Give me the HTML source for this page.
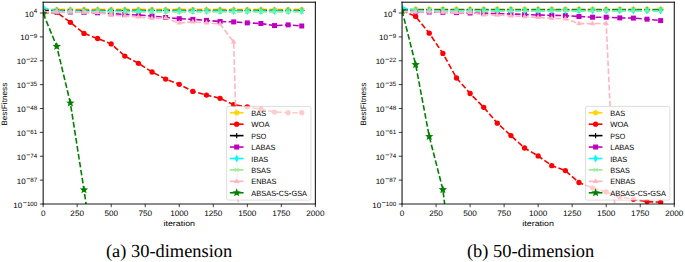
<!DOCTYPE html>
<html><head><meta charset="utf-8"><style>
html,body{margin:0;padding:0;background:#fff;width:685px;height:262px;overflow:hidden;position:relative}
</style></head><body>
<svg width="685" height="262" viewBox="0 0 685 262" style="position:absolute;left:0;top:0" text-rendering="geometricPrecision">
<rect width="685" height="262" fill="#fff"/>
<clipPath id="c43"><rect x="43.15" y="2.20" width="272.20" height="201.80"/></clipPath>
<g clip-path="url(#c43)">
<polyline points="43.15,9.40 56.76,9.40 70.37,9.40 83.98,9.40 97.59,9.40 111.20,9.40 124.81,9.40 138.42,9.40 152.03,9.40 165.64,9.40 179.25,9.40 192.86,9.40 206.47,9.40 220.08,9.40 233.69,9.40 247.30,9.40 260.91,9.40 274.52,9.40 288.13,9.40 301.74,9.40" fill="none" stroke="#ffd700" stroke-width="1.6" stroke-dasharray="5.66 2.42"/>
<polygon points="43.15,6.40 46.00,8.47 44.91,11.83 41.39,11.83 40.30,8.47" fill="#ffd700"/>
<polygon points="56.76,6.40 59.61,8.47 58.52,11.83 55.00,11.83 53.91,8.47" fill="#ffd700"/>
<polygon points="70.37,6.40 73.22,8.47 72.13,11.83 68.61,11.83 67.52,8.47" fill="#ffd700"/>
<polygon points="83.98,6.40 86.83,8.47 85.74,11.83 82.22,11.83 81.13,8.47" fill="#ffd700"/>
<polygon points="97.59,6.40 100.44,8.47 99.35,11.83 95.83,11.83 94.74,8.47" fill="#ffd700"/>
<polygon points="111.20,6.40 114.05,8.47 112.96,11.83 109.44,11.83 108.35,8.47" fill="#ffd700"/>
<polygon points="124.81,6.40 127.66,8.47 126.57,11.83 123.05,11.83 121.96,8.47" fill="#ffd700"/>
<polygon points="138.42,6.40 141.27,8.47 140.18,11.83 136.66,11.83 135.57,8.47" fill="#ffd700"/>
<polygon points="152.03,6.40 154.88,8.47 153.79,11.83 150.27,11.83 149.18,8.47" fill="#ffd700"/>
<polygon points="165.64,6.40 168.49,8.47 167.40,11.83 163.88,11.83 162.79,8.47" fill="#ffd700"/>
<polygon points="179.25,6.40 182.10,8.47 181.01,11.83 177.49,11.83 176.40,8.47" fill="#ffd700"/>
<polygon points="192.86,6.40 195.71,8.47 194.62,11.83 191.10,11.83 190.01,8.47" fill="#ffd700"/>
<polygon points="206.47,6.40 209.32,8.47 208.23,11.83 204.71,11.83 203.62,8.47" fill="#ffd700"/>
<polygon points="220.08,6.40 222.93,8.47 221.84,11.83 218.32,11.83 217.23,8.47" fill="#ffd700"/>
<polygon points="233.69,6.40 236.54,8.47 235.45,11.83 231.93,11.83 230.84,8.47" fill="#ffd700"/>
<polygon points="247.30,6.40 250.15,8.47 249.06,11.83 245.54,11.83 244.45,8.47" fill="#ffd700"/>
<polygon points="260.91,6.40 263.76,8.47 262.67,11.83 259.15,11.83 258.06,8.47" fill="#ffd700"/>
<polygon points="274.52,6.40 277.37,8.47 276.28,11.83 272.76,11.83 271.67,8.47" fill="#ffd700"/>
<polygon points="288.13,6.40 290.98,8.47 289.89,11.83 286.37,11.83 285.28,8.47" fill="#ffd700"/>
<polygon points="301.74,6.40 304.59,8.47 303.50,11.83 299.98,11.83 298.89,8.47" fill="#ffd700"/>
<polyline points="43.15,13.00 56.76,12.40 70.37,22.30 83.98,33.40 97.59,38.50 111.20,43.90 124.81,56.10 138.42,63.30 152.03,72.00 165.64,79.10 179.25,84.30 192.86,91.40 206.47,95.10 220.08,98.30 233.69,104.70 247.30,106.80 260.91,109.20 274.52,112.10 288.13,112.70 301.74,112.70" fill="none" stroke="#ff0000" stroke-width="1.6" stroke-dasharray="5.66 2.42"/>
<circle cx="43.15" cy="13.00" r="2.65" fill="#ff0000"/>
<circle cx="56.76" cy="12.40" r="2.65" fill="#ff0000"/>
<circle cx="70.37" cy="22.30" r="2.65" fill="#ff0000"/>
<circle cx="83.98" cy="33.40" r="2.65" fill="#ff0000"/>
<circle cx="97.59" cy="38.50" r="2.65" fill="#ff0000"/>
<circle cx="111.20" cy="43.90" r="2.65" fill="#ff0000"/>
<circle cx="124.81" cy="56.10" r="2.65" fill="#ff0000"/>
<circle cx="138.42" cy="63.30" r="2.65" fill="#ff0000"/>
<circle cx="152.03" cy="72.00" r="2.65" fill="#ff0000"/>
<circle cx="165.64" cy="79.10" r="2.65" fill="#ff0000"/>
<circle cx="179.25" cy="84.30" r="2.65" fill="#ff0000"/>
<circle cx="192.86" cy="91.40" r="2.65" fill="#ff0000"/>
<circle cx="206.47" cy="95.10" r="2.65" fill="#ff0000"/>
<circle cx="220.08" cy="98.30" r="2.65" fill="#ff0000"/>
<circle cx="233.69" cy="104.70" r="2.65" fill="#ff0000"/>
<circle cx="247.30" cy="106.80" r="2.65" fill="#ff0000"/>
<circle cx="260.91" cy="109.20" r="2.65" fill="#ff0000"/>
<circle cx="274.52" cy="112.10" r="2.65" fill="#ff0000"/>
<circle cx="288.13" cy="112.70" r="2.65" fill="#ff0000"/>
<circle cx="301.74" cy="112.70" r="2.65" fill="#ff0000"/>
<polyline points="43.15,10.50 56.76,10.50 70.37,10.50 83.98,10.50 97.59,10.50 111.20,10.50 124.81,10.50 138.42,10.50 152.03,10.50 165.64,10.50 179.25,10.50 192.86,10.50 206.47,10.50 220.08,10.50 233.69,10.50 247.30,10.50 260.91,10.50 274.52,10.50 288.13,10.50 301.74,10.50" fill="none" stroke="#000000" stroke-width="1.6" stroke-dasharray="5.66 2.42"/>
<path d="M40.45 10.50H45.85M43.15 7.80V13.20" stroke="#000000" stroke-width="1.1"/>
<path d="M54.06 10.50H59.46M56.76 7.80V13.20" stroke="#000000" stroke-width="1.1"/>
<path d="M67.67 10.50H73.07M70.37 7.80V13.20" stroke="#000000" stroke-width="1.1"/>
<path d="M81.28 10.50H86.68M83.98 7.80V13.20" stroke="#000000" stroke-width="1.1"/>
<path d="M94.89 10.50H100.29M97.59 7.80V13.20" stroke="#000000" stroke-width="1.1"/>
<path d="M108.50 10.50H113.90M111.20 7.80V13.20" stroke="#000000" stroke-width="1.1"/>
<path d="M122.11 10.50H127.51M124.81 7.80V13.20" stroke="#000000" stroke-width="1.1"/>
<path d="M135.72 10.50H141.12M138.42 7.80V13.20" stroke="#000000" stroke-width="1.1"/>
<path d="M149.33 10.50H154.73M152.03 7.80V13.20" stroke="#000000" stroke-width="1.1"/>
<path d="M162.94 10.50H168.34M165.64 7.80V13.20" stroke="#000000" stroke-width="1.1"/>
<path d="M176.55 10.50H181.95M179.25 7.80V13.20" stroke="#000000" stroke-width="1.1"/>
<path d="M190.16 10.50H195.56M192.86 7.80V13.20" stroke="#000000" stroke-width="1.1"/>
<path d="M203.77 10.50H209.17M206.47 7.80V13.20" stroke="#000000" stroke-width="1.1"/>
<path d="M217.38 10.50H222.78M220.08 7.80V13.20" stroke="#000000" stroke-width="1.1"/>
<path d="M230.99 10.50H236.39M233.69 7.80V13.20" stroke="#000000" stroke-width="1.1"/>
<path d="M244.60 10.50H250.00M247.30 7.80V13.20" stroke="#000000" stroke-width="1.1"/>
<path d="M258.21 10.50H263.61M260.91 7.80V13.20" stroke="#000000" stroke-width="1.1"/>
<path d="M271.82 10.50H277.22M274.52 7.80V13.20" stroke="#000000" stroke-width="1.1"/>
<path d="M285.43 10.50H290.83M288.13 7.80V13.20" stroke="#000000" stroke-width="1.1"/>
<path d="M299.04 10.50H304.44M301.74 7.80V13.20" stroke="#000000" stroke-width="1.1"/>
<polyline points="43.15,11.50 56.76,11.80 70.37,12.00 83.98,12.30 97.59,12.80 111.20,13.50 124.81,14.50 138.42,15.00 152.03,16.00 165.64,17.50 179.25,18.70 192.86,19.40 206.47,20.40 220.08,21.50 233.69,21.90 247.30,22.90 260.91,23.50 274.52,25.60 288.13,24.90 301.74,26.00" fill="none" stroke="#bf00bf" stroke-width="1.6" stroke-dasharray="5.66 2.42"/>
<rect x="40.65" y="9.00" width="5.00" height="5.00" fill="#bf00bf"/>
<rect x="54.26" y="9.30" width="5.00" height="5.00" fill="#bf00bf"/>
<rect x="67.87" y="9.50" width="5.00" height="5.00" fill="#bf00bf"/>
<rect x="81.48" y="9.80" width="5.00" height="5.00" fill="#bf00bf"/>
<rect x="95.09" y="10.30" width="5.00" height="5.00" fill="#bf00bf"/>
<rect x="108.70" y="11.00" width="5.00" height="5.00" fill="#bf00bf"/>
<rect x="122.31" y="12.00" width="5.00" height="5.00" fill="#bf00bf"/>
<rect x="135.92" y="12.50" width="5.00" height="5.00" fill="#bf00bf"/>
<rect x="149.53" y="13.50" width="5.00" height="5.00" fill="#bf00bf"/>
<rect x="163.14" y="15.00" width="5.00" height="5.00" fill="#bf00bf"/>
<rect x="176.75" y="16.20" width="5.00" height="5.00" fill="#bf00bf"/>
<rect x="190.36" y="16.90" width="5.00" height="5.00" fill="#bf00bf"/>
<rect x="203.97" y="17.90" width="5.00" height="5.00" fill="#bf00bf"/>
<rect x="217.58" y="19.00" width="5.00" height="5.00" fill="#bf00bf"/>
<rect x="231.19" y="19.40" width="5.00" height="5.00" fill="#bf00bf"/>
<rect x="244.80" y="20.40" width="5.00" height="5.00" fill="#bf00bf"/>
<rect x="258.41" y="21.00" width="5.00" height="5.00" fill="#bf00bf"/>
<rect x="272.02" y="23.10" width="5.00" height="5.00" fill="#bf00bf"/>
<rect x="285.63" y="22.40" width="5.00" height="5.00" fill="#bf00bf"/>
<rect x="299.24" y="23.50" width="5.00" height="5.00" fill="#bf00bf"/>
<polyline points="43.15,7.50 56.76,11.10 70.37,11.10 83.98,11.10 97.59,11.10 111.20,11.10 124.81,11.10 138.42,11.10 152.03,11.10 165.64,11.10 179.25,11.10 192.86,11.10 206.47,11.10 220.08,11.10 233.69,11.10 247.30,11.10 260.91,11.10 274.52,11.10 288.13,11.10 301.74,11.10" fill="none" stroke="#00ffff" stroke-width="1.6" stroke-dasharray="5.66 2.42"/>
<polygon points="43.15,3.50 45.35,7.50 43.15,11.50 40.95,7.50" fill="#00ffff"/>
<polygon points="56.76,7.10 58.96,11.10 56.76,15.10 54.56,11.10" fill="#00ffff"/>
<polygon points="70.37,7.10 72.57,11.10 70.37,15.10 68.17,11.10" fill="#00ffff"/>
<polygon points="83.98,7.10 86.18,11.10 83.98,15.10 81.78,11.10" fill="#00ffff"/>
<polygon points="97.59,7.10 99.79,11.10 97.59,15.10 95.39,11.10" fill="#00ffff"/>
<polygon points="111.20,7.10 113.40,11.10 111.20,15.10 109.00,11.10" fill="#00ffff"/>
<polygon points="124.81,7.10 127.01,11.10 124.81,15.10 122.61,11.10" fill="#00ffff"/>
<polygon points="138.42,7.10 140.62,11.10 138.42,15.10 136.22,11.10" fill="#00ffff"/>
<polygon points="152.03,7.10 154.23,11.10 152.03,15.10 149.83,11.10" fill="#00ffff"/>
<polygon points="165.64,7.10 167.84,11.10 165.64,15.10 163.44,11.10" fill="#00ffff"/>
<polygon points="179.25,7.10 181.45,11.10 179.25,15.10 177.05,11.10" fill="#00ffff"/>
<polygon points="192.86,7.10 195.06,11.10 192.86,15.10 190.66,11.10" fill="#00ffff"/>
<polygon points="206.47,7.10 208.67,11.10 206.47,15.10 204.27,11.10" fill="#00ffff"/>
<polygon points="220.08,7.10 222.28,11.10 220.08,15.10 217.88,11.10" fill="#00ffff"/>
<polygon points="233.69,7.10 235.89,11.10 233.69,15.10 231.49,11.10" fill="#00ffff"/>
<polygon points="247.30,7.10 249.50,11.10 247.30,15.10 245.10,11.10" fill="#00ffff"/>
<polygon points="260.91,7.10 263.11,11.10 260.91,15.10 258.71,11.10" fill="#00ffff"/>
<polygon points="274.52,7.10 276.72,11.10 274.52,15.10 272.32,11.10" fill="#00ffff"/>
<polygon points="288.13,7.10 290.33,11.10 288.13,15.10 285.93,11.10" fill="#00ffff"/>
<polygon points="301.74,7.10 303.94,11.10 301.74,15.10 299.54,11.10" fill="#00ffff"/>
<polyline points="43.15,11.90 56.76,11.90 70.37,11.90 83.98,11.90 97.59,11.90 111.20,11.90 124.81,11.90 138.42,11.90 152.03,11.90 165.64,11.90 179.25,11.90 192.86,11.90 206.47,11.90 220.08,11.90 233.69,11.90 247.30,11.90 260.91,11.90 274.52,11.90 288.13,11.90 301.74,11.90" fill="none" stroke="#90ee90" stroke-width="1.6" stroke-dasharray="5.66 2.42"/>
<path d="M41.15 9.90L45.15 13.90M41.15 13.90L45.15 9.90" stroke="#90ee90" stroke-width="1.0"/>
<path d="M54.76 9.90L58.76 13.90M54.76 13.90L58.76 9.90" stroke="#90ee90" stroke-width="1.0"/>
<path d="M68.37 9.90L72.37 13.90M68.37 13.90L72.37 9.90" stroke="#90ee90" stroke-width="1.0"/>
<path d="M81.98 9.90L85.98 13.90M81.98 13.90L85.98 9.90" stroke="#90ee90" stroke-width="1.0"/>
<path d="M95.59 9.90L99.59 13.90M95.59 13.90L99.59 9.90" stroke="#90ee90" stroke-width="1.0"/>
<path d="M109.20 9.90L113.20 13.90M109.20 13.90L113.20 9.90" stroke="#90ee90" stroke-width="1.0"/>
<path d="M122.81 9.90L126.81 13.90M122.81 13.90L126.81 9.90" stroke="#90ee90" stroke-width="1.0"/>
<path d="M136.42 9.90L140.42 13.90M136.42 13.90L140.42 9.90" stroke="#90ee90" stroke-width="1.0"/>
<path d="M150.03 9.90L154.03 13.90M150.03 13.90L154.03 9.90" stroke="#90ee90" stroke-width="1.0"/>
<path d="M163.64 9.90L167.64 13.90M163.64 13.90L167.64 9.90" stroke="#90ee90" stroke-width="1.0"/>
<path d="M177.25 9.90L181.25 13.90M177.25 13.90L181.25 9.90" stroke="#90ee90" stroke-width="1.0"/>
<path d="M190.86 9.90L194.86 13.90M190.86 13.90L194.86 9.90" stroke="#90ee90" stroke-width="1.0"/>
<path d="M204.47 9.90L208.47 13.90M204.47 13.90L208.47 9.90" stroke="#90ee90" stroke-width="1.0"/>
<path d="M218.08 9.90L222.08 13.90M218.08 13.90L222.08 9.90" stroke="#90ee90" stroke-width="1.0"/>
<path d="M231.69 9.90L235.69 13.90M231.69 13.90L235.69 9.90" stroke="#90ee90" stroke-width="1.0"/>
<path d="M245.30 9.90L249.30 13.90M245.30 13.90L249.30 9.90" stroke="#90ee90" stroke-width="1.0"/>
<path d="M258.91 9.90L262.91 13.90M258.91 13.90L262.91 9.90" stroke="#90ee90" stroke-width="1.0"/>
<path d="M272.52 9.90L276.52 13.90M272.52 13.90L276.52 9.90" stroke="#90ee90" stroke-width="1.0"/>
<path d="M286.13 9.90L290.13 13.90M286.13 13.90L290.13 9.90" stroke="#90ee90" stroke-width="1.0"/>
<path d="M299.74 9.90L303.74 13.90M299.74 13.90L303.74 9.90" stroke="#90ee90" stroke-width="1.0"/>
<polyline points="43.15,12.00 56.76,11.80 70.37,12.00 83.98,12.20 97.59,12.50 111.20,15.30 124.81,16.00 138.42,17.00 152.03,18.50 165.64,18.00 179.25,23.00 192.86,22.00 206.47,22.90 220.08,24.00 233.69,42.00 247.30,521.00 260.91,600.00 274.52,600.00 288.13,600.00 301.74,600.00" fill="none" stroke="#ffb6c1" stroke-width="1.6" stroke-dasharray="5.66 2.42"/>
<polygon points="43.15,8.80 45.93,13.60 40.37,13.60" fill="#ffb6c1"/>
<polygon points="56.76,8.60 59.54,13.40 53.98,13.40" fill="#ffb6c1"/>
<polygon points="70.37,8.80 73.15,13.60 67.59,13.60" fill="#ffb6c1"/>
<polygon points="83.98,9.00 86.76,13.80 81.20,13.80" fill="#ffb6c1"/>
<polygon points="97.59,9.30 100.37,14.10 94.81,14.10" fill="#ffb6c1"/>
<polygon points="111.20,12.10 113.98,16.90 108.42,16.90" fill="#ffb6c1"/>
<polygon points="124.81,12.80 127.59,17.60 122.03,17.60" fill="#ffb6c1"/>
<polygon points="138.42,13.80 141.20,18.60 135.64,18.60" fill="#ffb6c1"/>
<polygon points="152.03,15.30 154.81,20.10 149.25,20.10" fill="#ffb6c1"/>
<polygon points="165.64,14.80 168.42,19.60 162.86,19.60" fill="#ffb6c1"/>
<polygon points="179.25,19.80 182.03,24.60 176.47,24.60" fill="#ffb6c1"/>
<polygon points="192.86,18.80 195.64,23.60 190.08,23.60" fill="#ffb6c1"/>
<polygon points="206.47,19.70 209.25,24.50 203.69,24.50" fill="#ffb6c1"/>
<polygon points="220.08,20.80 222.86,25.60 217.30,25.60" fill="#ffb6c1"/>
<polygon points="233.69,38.80 236.47,43.60 230.91,43.60" fill="#ffb6c1"/>
<polyline points="43.15,13.40 56.76,46.40 70.37,103.00 83.98,189.80 97.59,283.00 111.20,400.00 124.81,400.00 138.42,400.00 152.03,400.00 165.64,400.00 179.25,400.00 192.86,400.00 206.47,400.00 220.08,400.00 233.69,400.00 247.30,400.00 260.91,400.00 274.52,400.00 288.13,400.00 301.74,400.00" fill="none" stroke="#008000" stroke-width="1.6" stroke-dasharray="5.66 2.42"/>
<polygon points="43.15,9.00 44.30,11.82 47.33,12.04 45.00,14.00 45.74,16.96 43.15,15.35 40.56,16.96 41.30,14.00 38.97,12.04 42.00,11.82" fill="#008000"/>
<polygon points="56.76,42.00 57.91,44.82 60.94,45.04 58.61,47.00 59.35,49.96 56.76,48.35 54.17,49.96 54.91,47.00 52.58,45.04 55.61,44.82" fill="#008000"/>
<polygon points="70.37,98.60 71.52,101.42 74.55,101.64 72.22,103.60 72.96,106.56 70.37,104.95 67.78,106.56 68.52,103.60 66.19,101.64 69.22,101.42" fill="#008000"/>
<polygon points="83.98,185.40 85.13,188.22 88.16,188.44 85.83,190.40 86.57,193.36 83.98,191.75 81.39,193.36 82.13,190.40 79.80,188.44 82.83,188.22" fill="#008000"/>
</g>
<rect x="226.65" y="106.40" width="84.30" height="93.70" rx="1.6" fill="#fff" fill-opacity="0.8" stroke="#d0d0d0" stroke-width="0.7"/>
<line x1="229.85" y1="112.75" x2="243.55" y2="112.75" stroke="#ffd700" stroke-width="1.6"/>
<polygon points="236.70,109.75 239.55,111.82 238.46,115.18 234.94,115.18 233.85,111.82" fill="#ffd700"/>
<text x="251.35" y="115.85" font-size="7.7" fill="#000" font-family='"Liberation Sans", sans-serif' textLength="14.84" lengthAdjust="spacingAndGlyphs">BAS</text>
<line x1="229.85" y1="124.18" x2="243.55" y2="124.18" stroke="#ff0000" stroke-width="1.6"/>
<circle cx="236.70" cy="124.18" r="2.65" fill="#ff0000"/>
<text x="251.35" y="127.28" font-size="7.7" fill="#000" font-family='"Liberation Sans", sans-serif' textLength="18.2" lengthAdjust="spacingAndGlyphs">WOA</text>
<line x1="229.85" y1="135.61" x2="243.55" y2="135.61" stroke="#000000" stroke-width="1.6"/>
<path d="M234.00 135.61H239.40M236.70 132.91V138.31" stroke="#000000" stroke-width="1.1"/>
<text x="251.35" y="138.71" font-size="7.7" fill="#000" font-family='"Liberation Sans", sans-serif' textLength="14.98" lengthAdjust="spacingAndGlyphs">PSO</text>
<line x1="229.85" y1="147.04" x2="243.55" y2="147.04" stroke="#bf00bf" stroke-width="1.6"/>
<rect x="234.20" y="144.54" width="5.00" height="5.00" fill="#bf00bf"/>
<text x="251.35" y="150.14" font-size="7.7" fill="#000" font-family='"Liberation Sans", sans-serif' textLength="24.02" lengthAdjust="spacingAndGlyphs">LABAS</text>
<line x1="229.85" y1="158.47" x2="243.55" y2="158.47" stroke="#00ffff" stroke-width="1.6"/>
<polygon points="236.70,154.47 238.90,158.47 236.70,162.47 234.50,158.47" fill="#00ffff"/>
<text x="251.35" y="161.57" font-size="7.7" fill="#000" font-family='"Liberation Sans", sans-serif' textLength="17.02" lengthAdjust="spacingAndGlyphs">IBAS</text>
<line x1="229.85" y1="169.90" x2="243.55" y2="169.90" stroke="#90ee90" stroke-width="1.6"/>
<path d="M234.70 167.90L238.70 171.90M234.70 171.90L238.70 167.90" stroke="#90ee90" stroke-width="1.0"/>
<text x="251.35" y="173.00" font-size="7.7" fill="#000" font-family='"Liberation Sans", sans-serif' textLength="19.54" lengthAdjust="spacingAndGlyphs">BSAS</text>
<line x1="229.85" y1="181.33" x2="243.55" y2="181.33" stroke="#ffb6c1" stroke-width="1.6"/>
<polygon points="236.70,178.13 239.48,182.93 233.92,182.93" fill="#ffb6c1"/>
<text x="251.35" y="184.43" font-size="7.7" fill="#000" font-family='"Liberation Sans", sans-serif' textLength="25.05" lengthAdjust="spacingAndGlyphs">ENBAS</text>
<line x1="229.85" y1="192.76" x2="243.55" y2="192.76" stroke="#008000" stroke-width="1.6"/>
<polygon points="236.70,188.36 237.85,191.18 240.88,191.40 238.55,193.36 239.29,196.32 236.70,194.71 234.11,196.32 234.85,193.36 232.52,191.40 235.55,191.18" fill="#008000"/>
<text x="251.35" y="195.86" font-size="7.7" fill="#000" font-family='"Liberation Sans", sans-serif' textLength="24.76" lengthAdjust="spacingAndGlyphs">ABSAS</text>
<line x1="276.46" y1="193.76" x2="278.45" y2="193.76" stroke="#000" stroke-width="0.9"/>
<text x="278.80" y="195.86" font-size="7.7" fill="#000" font-family='"Liberation Sans", sans-serif' textLength="9.93" lengthAdjust="spacingAndGlyphs">CS</text>
<line x1="289.08" y1="193.76" x2="291.07" y2="193.76" stroke="#000" stroke-width="0.9"/>
<text x="291.42" y="195.86" font-size="7.7" fill="#000" font-family='"Liberation Sans", sans-serif' textLength="15.60" lengthAdjust="spacingAndGlyphs">GSA</text>
<line x1="43.15" y1="1.70" x2="43.15" y2="204.45" stroke="#000" stroke-width="1.0"/>
<line x1="315.35" y1="1.70" x2="315.35" y2="204.45" stroke="#000" stroke-width="1.0"/>
<line x1="42.65" y1="2.20" x2="315.85" y2="2.20" stroke="#000" stroke-width="1.0"/>
<line x1="42.65" y1="204.00" x2="315.85" y2="204.00" stroke="#000" stroke-width="0.9"/>
<line x1="43.15" y1="204.00" x2="43.15" y2="207.20" stroke="#000" stroke-width="0.75"/>
<text x="43.15" y="215.60" font-size="7.9" text-anchor="middle" fill="#000" font-family='"Liberation Sans", sans-serif' textLength="4.55" lengthAdjust="spacingAndGlyphs">0</text>
<line x1="77.17" y1="204.00" x2="77.17" y2="207.20" stroke="#000" stroke-width="0.75"/>
<text x="77.17" y="215.60" font-size="7.9" text-anchor="middle" fill="#000" font-family='"Liberation Sans", sans-serif' textLength="13.65" lengthAdjust="spacingAndGlyphs">250</text>
<line x1="111.20" y1="204.00" x2="111.20" y2="207.20" stroke="#000" stroke-width="0.75"/>
<text x="111.20" y="215.60" font-size="7.9" text-anchor="middle" fill="#000" font-family='"Liberation Sans", sans-serif' textLength="13.65" lengthAdjust="spacingAndGlyphs">500</text>
<line x1="145.22" y1="204.00" x2="145.22" y2="207.20" stroke="#000" stroke-width="0.75"/>
<text x="145.22" y="215.60" font-size="7.9" text-anchor="middle" fill="#000" font-family='"Liberation Sans", sans-serif' textLength="13.65" lengthAdjust="spacingAndGlyphs">750</text>
<line x1="179.25" y1="204.00" x2="179.25" y2="207.20" stroke="#000" stroke-width="0.75"/>
<text x="179.25" y="215.60" font-size="7.9" text-anchor="middle" fill="#000" font-family='"Liberation Sans", sans-serif' textLength="18.20" lengthAdjust="spacingAndGlyphs">1000</text>
<line x1="213.28" y1="204.00" x2="213.28" y2="207.20" stroke="#000" stroke-width="0.75"/>
<text x="213.28" y="215.60" font-size="7.9" text-anchor="middle" fill="#000" font-family='"Liberation Sans", sans-serif' textLength="18.20" lengthAdjust="spacingAndGlyphs">1250</text>
<line x1="247.30" y1="204.00" x2="247.30" y2="207.20" stroke="#000" stroke-width="0.75"/>
<text x="247.30" y="215.60" font-size="7.9" text-anchor="middle" fill="#000" font-family='"Liberation Sans", sans-serif' textLength="18.20" lengthAdjust="spacingAndGlyphs">1500</text>
<line x1="281.32" y1="204.00" x2="281.32" y2="207.20" stroke="#000" stroke-width="0.75"/>
<text x="281.32" y="215.60" font-size="7.9" text-anchor="middle" fill="#000" font-family='"Liberation Sans", sans-serif' textLength="18.20" lengthAdjust="spacingAndGlyphs">1750</text>
<line x1="315.35" y1="204.00" x2="315.35" y2="207.20" stroke="#000" stroke-width="0.75"/>
<text x="315.35" y="215.60" font-size="7.9" text-anchor="middle" fill="#000" font-family='"Liberation Sans", sans-serif' textLength="18.20" lengthAdjust="spacingAndGlyphs">2000</text>
<line x1="39.85" y1="13.00" x2="43.15" y2="13.00" stroke="#000" stroke-width="0.75"/>
<text x="33.80" y="13.20" font-size="6.2" fill="#000" font-family='"Liberation Sans", sans-serif' textLength="3.45" lengthAdjust="spacingAndGlyphs">4</text>
<text x="24.70" y="16.50" font-size="7.8" fill="#000" font-family='"Liberation Sans", sans-serif' textLength="8.9" lengthAdjust="spacingAndGlyphs">10</text>
<line x1="39.85" y1="36.88" x2="43.15" y2="36.88" stroke="#000" stroke-width="0.75"/>
<text x="33.80" y="38.38" font-size="6.2" fill="#000" font-family='"Liberation Sans", sans-serif' textLength="3.45" lengthAdjust="spacingAndGlyphs">9</text>
<line x1="30.10" y1="35.42" x2="33.50" y2="35.42" stroke="#000" stroke-width="0.6"/>
<text x="20.20" y="40.38" font-size="7.8" fill="#000" font-family='"Liberation Sans", sans-serif' textLength="8.9" lengthAdjust="spacingAndGlyphs">10</text>
<line x1="39.85" y1="60.75" x2="43.15" y2="60.75" stroke="#000" stroke-width="0.75"/>
<text x="30.35" y="62.25" font-size="6.2" fill="#000" font-family='"Liberation Sans", sans-serif' textLength="6.90" lengthAdjust="spacingAndGlyphs">22</text>
<line x1="26.65" y1="59.30" x2="30.05" y2="59.30" stroke="#000" stroke-width="0.6"/>
<text x="16.75" y="64.25" font-size="7.8" fill="#000" font-family='"Liberation Sans", sans-serif' textLength="8.9" lengthAdjust="spacingAndGlyphs">10</text>
<line x1="39.85" y1="84.62" x2="43.15" y2="84.62" stroke="#000" stroke-width="0.75"/>
<text x="30.35" y="86.12" font-size="6.2" fill="#000" font-family='"Liberation Sans", sans-serif' textLength="6.90" lengthAdjust="spacingAndGlyphs">35</text>
<line x1="26.65" y1="83.17" x2="30.05" y2="83.17" stroke="#000" stroke-width="0.6"/>
<text x="16.75" y="88.12" font-size="7.8" fill="#000" font-family='"Liberation Sans", sans-serif' textLength="8.9" lengthAdjust="spacingAndGlyphs">10</text>
<line x1="39.85" y1="108.50" x2="43.15" y2="108.50" stroke="#000" stroke-width="0.75"/>
<text x="30.35" y="110.00" font-size="6.2" fill="#000" font-family='"Liberation Sans", sans-serif' textLength="6.90" lengthAdjust="spacingAndGlyphs">48</text>
<line x1="26.65" y1="107.05" x2="30.05" y2="107.05" stroke="#000" stroke-width="0.6"/>
<text x="16.75" y="112.00" font-size="7.8" fill="#000" font-family='"Liberation Sans", sans-serif' textLength="8.9" lengthAdjust="spacingAndGlyphs">10</text>
<line x1="39.85" y1="132.38" x2="43.15" y2="132.38" stroke="#000" stroke-width="0.75"/>
<text x="30.35" y="133.88" font-size="6.2" fill="#000" font-family='"Liberation Sans", sans-serif' textLength="6.90" lengthAdjust="spacingAndGlyphs">61</text>
<line x1="26.65" y1="130.93" x2="30.05" y2="130.93" stroke="#000" stroke-width="0.6"/>
<text x="16.75" y="135.88" font-size="7.8" fill="#000" font-family='"Liberation Sans", sans-serif' textLength="8.9" lengthAdjust="spacingAndGlyphs">10</text>
<line x1="39.85" y1="156.25" x2="43.15" y2="156.25" stroke="#000" stroke-width="0.75"/>
<text x="30.35" y="157.75" font-size="6.2" fill="#000" font-family='"Liberation Sans", sans-serif' textLength="6.90" lengthAdjust="spacingAndGlyphs">74</text>
<line x1="26.65" y1="154.80" x2="30.05" y2="154.80" stroke="#000" stroke-width="0.6"/>
<text x="16.75" y="159.75" font-size="7.8" fill="#000" font-family='"Liberation Sans", sans-serif' textLength="8.9" lengthAdjust="spacingAndGlyphs">10</text>
<line x1="39.85" y1="180.12" x2="43.15" y2="180.12" stroke="#000" stroke-width="0.75"/>
<text x="30.35" y="181.62" font-size="6.2" fill="#000" font-family='"Liberation Sans", sans-serif' textLength="6.90" lengthAdjust="spacingAndGlyphs">87</text>
<line x1="26.65" y1="178.68" x2="30.05" y2="178.68" stroke="#000" stroke-width="0.6"/>
<text x="16.75" y="183.62" font-size="7.8" fill="#000" font-family='"Liberation Sans", sans-serif' textLength="8.9" lengthAdjust="spacingAndGlyphs">10</text>
<line x1="39.85" y1="204.00" x2="43.15" y2="204.00" stroke="#000" stroke-width="0.75"/>
<text x="26.90" y="205.50" font-size="6.2" fill="#000" font-family='"Liberation Sans", sans-serif' textLength="10.35" lengthAdjust="spacingAndGlyphs">100</text>
<line x1="23.20" y1="202.55" x2="26.60" y2="202.55" stroke="#000" stroke-width="0.6"/>
<text x="13.30" y="207.50" font-size="7.8" fill="#000" font-family='"Liberation Sans", sans-serif' textLength="8.9" lengthAdjust="spacingAndGlyphs">10</text>
<text x="179.25" y="225.6" font-size="7.7" text-anchor="middle" fill="#000" font-family='"Liberation Sans", sans-serif' textLength="31.6" lengthAdjust="spacingAndGlyphs">iteration</text>
<text transform="translate(6.65,104.2) rotate(-90)" font-size="7.8" text-anchor="middle" fill="#000" font-family='"Liberation Sans", sans-serif' textLength="43" lengthAdjust="spacingAndGlyphs">BestFitness</text>
<clipPath id="c402"><rect x="402.05" y="2.20" width="272.20" height="201.80"/></clipPath>
<g clip-path="url(#c402)">
<polyline points="402.05,9.00 415.66,9.00 429.27,9.00 442.88,9.00 456.49,9.00 470.10,9.00 483.71,9.00 497.32,9.00 510.93,9.00 524.54,9.00 538.15,9.00 551.76,9.00 565.37,9.00 578.98,9.00 592.59,9.00 606.20,9.00 619.81,9.00 633.42,9.00 647.03,9.00 660.64,9.00" fill="none" stroke="#ffd700" stroke-width="1.6" stroke-dasharray="5.66 2.42"/>
<polygon points="402.05,6.00 404.90,8.07 403.81,11.43 400.29,11.43 399.20,8.07" fill="#ffd700"/>
<polygon points="415.66,6.00 418.51,8.07 417.42,11.43 413.90,11.43 412.81,8.07" fill="#ffd700"/>
<polygon points="429.27,6.00 432.12,8.07 431.03,11.43 427.51,11.43 426.42,8.07" fill="#ffd700"/>
<polygon points="442.88,6.00 445.73,8.07 444.64,11.43 441.12,11.43 440.03,8.07" fill="#ffd700"/>
<polygon points="456.49,6.00 459.34,8.07 458.25,11.43 454.73,11.43 453.64,8.07" fill="#ffd700"/>
<polygon points="470.10,6.00 472.95,8.07 471.86,11.43 468.34,11.43 467.25,8.07" fill="#ffd700"/>
<polygon points="483.71,6.00 486.56,8.07 485.47,11.43 481.95,11.43 480.86,8.07" fill="#ffd700"/>
<polygon points="497.32,6.00 500.17,8.07 499.08,11.43 495.56,11.43 494.47,8.07" fill="#ffd700"/>
<polygon points="510.93,6.00 513.78,8.07 512.69,11.43 509.17,11.43 508.08,8.07" fill="#ffd700"/>
<polygon points="524.54,6.00 527.39,8.07 526.30,11.43 522.78,11.43 521.69,8.07" fill="#ffd700"/>
<polygon points="538.15,6.00 541.00,8.07 539.91,11.43 536.39,11.43 535.30,8.07" fill="#ffd700"/>
<polygon points="551.76,6.00 554.61,8.07 553.52,11.43 550.00,11.43 548.91,8.07" fill="#ffd700"/>
<polygon points="565.37,6.00 568.22,8.07 567.13,11.43 563.61,11.43 562.52,8.07" fill="#ffd700"/>
<polygon points="578.98,6.00 581.83,8.07 580.74,11.43 577.22,11.43 576.13,8.07" fill="#ffd700"/>
<polygon points="592.59,6.00 595.44,8.07 594.35,11.43 590.83,11.43 589.74,8.07" fill="#ffd700"/>
<polygon points="606.20,6.00 609.05,8.07 607.96,11.43 604.44,11.43 603.35,8.07" fill="#ffd700"/>
<polygon points="619.81,6.00 622.66,8.07 621.57,11.43 618.05,11.43 616.96,8.07" fill="#ffd700"/>
<polygon points="633.42,6.00 636.27,8.07 635.18,11.43 631.66,11.43 630.57,8.07" fill="#ffd700"/>
<polygon points="647.03,6.00 649.88,8.07 648.79,11.43 645.27,11.43 644.18,8.07" fill="#ffd700"/>
<polygon points="660.64,6.00 663.49,8.07 662.40,11.43 658.88,11.43 657.79,8.07" fill="#ffd700"/>
<polyline points="402.05,10.50 415.66,16.50 429.27,33.20 442.88,53.40 456.49,78.00 470.10,93.50 483.71,107.30 497.32,123.20 510.93,135.60 524.54,148.00 538.15,155.90 551.76,165.70 565.37,170.60 578.98,182.50 592.59,188.00 606.20,192.00 619.81,196.90 633.42,199.30 647.03,201.60 660.64,202.30" fill="none" stroke="#ff0000" stroke-width="1.6" stroke-dasharray="5.66 2.42"/>
<circle cx="402.05" cy="10.50" r="2.65" fill="#ff0000"/>
<circle cx="415.66" cy="16.50" r="2.65" fill="#ff0000"/>
<circle cx="429.27" cy="33.20" r="2.65" fill="#ff0000"/>
<circle cx="442.88" cy="53.40" r="2.65" fill="#ff0000"/>
<circle cx="456.49" cy="78.00" r="2.65" fill="#ff0000"/>
<circle cx="470.10" cy="93.50" r="2.65" fill="#ff0000"/>
<circle cx="483.71" cy="107.30" r="2.65" fill="#ff0000"/>
<circle cx="497.32" cy="123.20" r="2.65" fill="#ff0000"/>
<circle cx="510.93" cy="135.60" r="2.65" fill="#ff0000"/>
<circle cx="524.54" cy="148.00" r="2.65" fill="#ff0000"/>
<circle cx="538.15" cy="155.90" r="2.65" fill="#ff0000"/>
<circle cx="551.76" cy="165.70" r="2.65" fill="#ff0000"/>
<circle cx="565.37" cy="170.60" r="2.65" fill="#ff0000"/>
<circle cx="578.98" cy="182.50" r="2.65" fill="#ff0000"/>
<circle cx="592.59" cy="188.00" r="2.65" fill="#ff0000"/>
<circle cx="606.20" cy="192.00" r="2.65" fill="#ff0000"/>
<circle cx="619.81" cy="196.90" r="2.65" fill="#ff0000"/>
<circle cx="633.42" cy="199.30" r="2.65" fill="#ff0000"/>
<circle cx="647.03" cy="201.60" r="2.65" fill="#ff0000"/>
<circle cx="660.64" cy="202.30" r="2.65" fill="#ff0000"/>
<polyline points="402.05,9.90 415.66,9.90 429.27,9.90 442.88,9.90 456.49,9.90 470.10,9.90 483.71,9.90 497.32,9.90 510.93,9.90 524.54,9.90 538.15,9.90 551.76,9.90 565.37,9.90 578.98,9.90 592.59,9.90 606.20,9.90 619.81,9.90 633.42,9.90 647.03,9.90 660.64,9.90" fill="none" stroke="#000000" stroke-width="1.6" stroke-dasharray="5.66 2.42"/>
<path d="M399.35 9.90H404.75M402.05 7.20V12.60" stroke="#000000" stroke-width="1.1"/>
<path d="M412.96 9.90H418.36M415.66 7.20V12.60" stroke="#000000" stroke-width="1.1"/>
<path d="M426.57 9.90H431.97M429.27 7.20V12.60" stroke="#000000" stroke-width="1.1"/>
<path d="M440.18 9.90H445.58M442.88 7.20V12.60" stroke="#000000" stroke-width="1.1"/>
<path d="M453.79 9.90H459.19M456.49 7.20V12.60" stroke="#000000" stroke-width="1.1"/>
<path d="M467.40 9.90H472.80M470.10 7.20V12.60" stroke="#000000" stroke-width="1.1"/>
<path d="M481.01 9.90H486.41M483.71 7.20V12.60" stroke="#000000" stroke-width="1.1"/>
<path d="M494.62 9.90H500.02M497.32 7.20V12.60" stroke="#000000" stroke-width="1.1"/>
<path d="M508.23 9.90H513.63M510.93 7.20V12.60" stroke="#000000" stroke-width="1.1"/>
<path d="M521.84 9.90H527.24M524.54 7.20V12.60" stroke="#000000" stroke-width="1.1"/>
<path d="M535.45 9.90H540.85M538.15 7.20V12.60" stroke="#000000" stroke-width="1.1"/>
<path d="M549.06 9.90H554.46M551.76 7.20V12.60" stroke="#000000" stroke-width="1.1"/>
<path d="M562.67 9.90H568.07M565.37 7.20V12.60" stroke="#000000" stroke-width="1.1"/>
<path d="M576.28 9.90H581.68M578.98 7.20V12.60" stroke="#000000" stroke-width="1.1"/>
<path d="M589.89 9.90H595.29M592.59 7.20V12.60" stroke="#000000" stroke-width="1.1"/>
<path d="M603.50 9.90H608.90M606.20 7.20V12.60" stroke="#000000" stroke-width="1.1"/>
<path d="M617.11 9.90H622.51M619.81 7.20V12.60" stroke="#000000" stroke-width="1.1"/>
<path d="M630.72 9.90H636.12M633.42 7.20V12.60" stroke="#000000" stroke-width="1.1"/>
<path d="M644.33 9.90H649.73M647.03 7.20V12.60" stroke="#000000" stroke-width="1.1"/>
<path d="M657.94 9.90H663.34M660.64 7.20V12.60" stroke="#000000" stroke-width="1.1"/>
<polyline points="402.05,9.50 415.66,11.80 429.27,12.00 442.88,12.30 456.49,12.60 470.10,13.00 483.71,13.30 497.32,13.60 510.93,14.00 524.54,14.50 538.15,15.00 551.76,15.30 565.37,15.60 578.98,16.50 592.59,17.20 606.20,17.20 619.81,17.90 633.42,18.10 647.03,19.20 660.64,20.60" fill="none" stroke="#bf00bf" stroke-width="1.6" stroke-dasharray="5.66 2.42"/>
<rect x="399.55" y="7.00" width="5.00" height="5.00" fill="#bf00bf"/>
<rect x="413.16" y="9.30" width="5.00" height="5.00" fill="#bf00bf"/>
<rect x="426.77" y="9.50" width="5.00" height="5.00" fill="#bf00bf"/>
<rect x="440.38" y="9.80" width="5.00" height="5.00" fill="#bf00bf"/>
<rect x="453.99" y="10.10" width="5.00" height="5.00" fill="#bf00bf"/>
<rect x="467.60" y="10.50" width="5.00" height="5.00" fill="#bf00bf"/>
<rect x="481.21" y="10.80" width="5.00" height="5.00" fill="#bf00bf"/>
<rect x="494.82" y="11.10" width="5.00" height="5.00" fill="#bf00bf"/>
<rect x="508.43" y="11.50" width="5.00" height="5.00" fill="#bf00bf"/>
<rect x="522.04" y="12.00" width="5.00" height="5.00" fill="#bf00bf"/>
<rect x="535.65" y="12.50" width="5.00" height="5.00" fill="#bf00bf"/>
<rect x="549.26" y="12.80" width="5.00" height="5.00" fill="#bf00bf"/>
<rect x="562.87" y="13.10" width="5.00" height="5.00" fill="#bf00bf"/>
<rect x="576.48" y="14.00" width="5.00" height="5.00" fill="#bf00bf"/>
<rect x="590.09" y="14.70" width="5.00" height="5.00" fill="#bf00bf"/>
<rect x="603.70" y="14.70" width="5.00" height="5.00" fill="#bf00bf"/>
<rect x="617.31" y="15.40" width="5.00" height="5.00" fill="#bf00bf"/>
<rect x="630.92" y="15.60" width="5.00" height="5.00" fill="#bf00bf"/>
<rect x="644.53" y="16.70" width="5.00" height="5.00" fill="#bf00bf"/>
<rect x="658.14" y="18.10" width="5.00" height="5.00" fill="#bf00bf"/>
<polyline points="402.05,7.80 415.66,10.40 429.27,10.40 442.88,10.40 456.49,10.40 470.10,10.40 483.71,10.40 497.32,10.40 510.93,10.40 524.54,10.40 538.15,10.40 551.76,10.40 565.37,10.40 578.98,10.40 592.59,10.40 606.20,10.40 619.81,10.40 633.42,10.40 647.03,10.40 660.64,10.40" fill="none" stroke="#00ffff" stroke-width="1.6" stroke-dasharray="5.66 2.42"/>
<polygon points="402.05,3.80 404.25,7.80 402.05,11.80 399.85,7.80" fill="#00ffff"/>
<polygon points="415.66,6.40 417.86,10.40 415.66,14.40 413.46,10.40" fill="#00ffff"/>
<polygon points="429.27,6.40 431.47,10.40 429.27,14.40 427.07,10.40" fill="#00ffff"/>
<polygon points="442.88,6.40 445.08,10.40 442.88,14.40 440.68,10.40" fill="#00ffff"/>
<polygon points="456.49,6.40 458.69,10.40 456.49,14.40 454.29,10.40" fill="#00ffff"/>
<polygon points="470.10,6.40 472.30,10.40 470.10,14.40 467.90,10.40" fill="#00ffff"/>
<polygon points="483.71,6.40 485.91,10.40 483.71,14.40 481.51,10.40" fill="#00ffff"/>
<polygon points="497.32,6.40 499.52,10.40 497.32,14.40 495.12,10.40" fill="#00ffff"/>
<polygon points="510.93,6.40 513.13,10.40 510.93,14.40 508.73,10.40" fill="#00ffff"/>
<polygon points="524.54,6.40 526.74,10.40 524.54,14.40 522.34,10.40" fill="#00ffff"/>
<polygon points="538.15,6.40 540.35,10.40 538.15,14.40 535.95,10.40" fill="#00ffff"/>
<polygon points="551.76,6.40 553.96,10.40 551.76,14.40 549.56,10.40" fill="#00ffff"/>
<polygon points="565.37,6.40 567.57,10.40 565.37,14.40 563.17,10.40" fill="#00ffff"/>
<polygon points="578.98,6.40 581.18,10.40 578.98,14.40 576.78,10.40" fill="#00ffff"/>
<polygon points="592.59,6.40 594.79,10.40 592.59,14.40 590.39,10.40" fill="#00ffff"/>
<polygon points="606.20,6.40 608.40,10.40 606.20,14.40 604.00,10.40" fill="#00ffff"/>
<polygon points="619.81,6.40 622.01,10.40 619.81,14.40 617.61,10.40" fill="#00ffff"/>
<polygon points="633.42,6.40 635.62,10.40 633.42,14.40 631.22,10.40" fill="#00ffff"/>
<polygon points="647.03,6.40 649.23,10.40 647.03,14.40 644.83,10.40" fill="#00ffff"/>
<polygon points="660.64,6.40 662.84,10.40 660.64,14.40 658.44,10.40" fill="#00ffff"/>
<polyline points="402.05,11.20 415.66,11.20 429.27,11.20 442.88,11.20 456.49,11.20 470.10,11.20 483.71,11.20 497.32,11.20 510.93,11.20 524.54,11.20 538.15,11.20 551.76,11.20 565.37,11.20 578.98,11.20 592.59,11.20 606.20,11.20 619.81,11.20 633.42,11.20 647.03,11.20 660.64,11.20" fill="none" stroke="#90ee90" stroke-width="1.6" stroke-dasharray="5.66 2.42"/>
<path d="M400.05 9.20L404.05 13.20M400.05 13.20L404.05 9.20" stroke="#90ee90" stroke-width="1.0"/>
<path d="M413.66 9.20L417.66 13.20M413.66 13.20L417.66 9.20" stroke="#90ee90" stroke-width="1.0"/>
<path d="M427.27 9.20L431.27 13.20M427.27 13.20L431.27 9.20" stroke="#90ee90" stroke-width="1.0"/>
<path d="M440.88 9.20L444.88 13.20M440.88 13.20L444.88 9.20" stroke="#90ee90" stroke-width="1.0"/>
<path d="M454.49 9.20L458.49 13.20M454.49 13.20L458.49 9.20" stroke="#90ee90" stroke-width="1.0"/>
<path d="M468.10 9.20L472.10 13.20M468.10 13.20L472.10 9.20" stroke="#90ee90" stroke-width="1.0"/>
<path d="M481.71 9.20L485.71 13.20M481.71 13.20L485.71 9.20" stroke="#90ee90" stroke-width="1.0"/>
<path d="M495.32 9.20L499.32 13.20M495.32 13.20L499.32 9.20" stroke="#90ee90" stroke-width="1.0"/>
<path d="M508.93 9.20L512.93 13.20M508.93 13.20L512.93 9.20" stroke="#90ee90" stroke-width="1.0"/>
<path d="M522.54 9.20L526.54 13.20M522.54 13.20L526.54 9.20" stroke="#90ee90" stroke-width="1.0"/>
<path d="M536.15 9.20L540.15 13.20M536.15 13.20L540.15 9.20" stroke="#90ee90" stroke-width="1.0"/>
<path d="M549.76 9.20L553.76 13.20M549.76 13.20L553.76 9.20" stroke="#90ee90" stroke-width="1.0"/>
<path d="M563.37 9.20L567.37 13.20M563.37 13.20L567.37 9.20" stroke="#90ee90" stroke-width="1.0"/>
<path d="M576.98 9.20L580.98 13.20M576.98 13.20L580.98 9.20" stroke="#90ee90" stroke-width="1.0"/>
<path d="M590.59 9.20L594.59 13.20M590.59 13.20L594.59 9.20" stroke="#90ee90" stroke-width="1.0"/>
<path d="M604.20 9.20L608.20 13.20M604.20 13.20L608.20 9.20" stroke="#90ee90" stroke-width="1.0"/>
<path d="M617.81 9.20L621.81 13.20M617.81 13.20L621.81 9.20" stroke="#90ee90" stroke-width="1.0"/>
<path d="M631.42 9.20L635.42 13.20M631.42 13.20L635.42 9.20" stroke="#90ee90" stroke-width="1.0"/>
<path d="M645.03 9.20L649.03 13.20M645.03 13.20L649.03 9.20" stroke="#90ee90" stroke-width="1.0"/>
<path d="M658.64 9.20L662.64 13.20M658.64 13.20L662.64 9.20" stroke="#90ee90" stroke-width="1.0"/>
<polyline points="402.05,12.00 415.66,12.00 429.27,12.00 442.88,12.20 456.49,12.40 470.10,12.60 483.71,14.90 497.32,15.00 510.93,15.80 524.54,16.70 538.15,17.50 551.76,18.30 565.37,18.80 578.98,23.60 592.59,23.60 606.20,23.40 619.81,314.00 633.42,600.00 647.03,600.00 660.64,600.00" fill="none" stroke="#ffb6c1" stroke-width="1.6" stroke-dasharray="5.66 2.42"/>
<polygon points="402.05,8.80 404.83,13.60 399.27,13.60" fill="#ffb6c1"/>
<polygon points="415.66,8.80 418.44,13.60 412.88,13.60" fill="#ffb6c1"/>
<polygon points="429.27,8.80 432.05,13.60 426.49,13.60" fill="#ffb6c1"/>
<polygon points="442.88,9.00 445.66,13.80 440.10,13.80" fill="#ffb6c1"/>
<polygon points="456.49,9.20 459.27,14.00 453.71,14.00" fill="#ffb6c1"/>
<polygon points="470.10,9.40 472.88,14.20 467.32,14.20" fill="#ffb6c1"/>
<polygon points="483.71,11.70 486.49,16.50 480.93,16.50" fill="#ffb6c1"/>
<polygon points="497.32,11.80 500.10,16.60 494.54,16.60" fill="#ffb6c1"/>
<polygon points="510.93,12.60 513.71,17.40 508.15,17.40" fill="#ffb6c1"/>
<polygon points="524.54,13.50 527.32,18.30 521.76,18.30" fill="#ffb6c1"/>
<polygon points="538.15,14.30 540.93,19.10 535.37,19.10" fill="#ffb6c1"/>
<polygon points="551.76,15.10 554.54,19.90 548.98,19.90" fill="#ffb6c1"/>
<polygon points="565.37,15.60 568.15,20.40 562.59,20.40" fill="#ffb6c1"/>
<polygon points="578.98,20.40 581.76,25.20 576.20,25.20" fill="#ffb6c1"/>
<polygon points="592.59,20.40 595.37,25.20 589.81,25.20" fill="#ffb6c1"/>
<polygon points="606.20,20.20 608.98,25.00 603.42,25.00" fill="#ffb6c1"/>
<polyline points="402.05,10.60 415.66,64.70 429.27,136.50 442.88,189.60 456.49,300.00 470.10,400.00 483.71,400.00 497.32,400.00 510.93,400.00 524.54,400.00 538.15,400.00 551.76,400.00 565.37,400.00 578.98,400.00 592.59,400.00 606.20,400.00 619.81,400.00 633.42,400.00 647.03,400.00 660.64,400.00" fill="none" stroke="#008000" stroke-width="1.6" stroke-dasharray="5.66 2.42"/>
<polygon points="402.05,6.20 403.20,9.02 406.23,9.24 403.90,11.20 404.64,14.16 402.05,12.55 399.46,14.16 400.20,11.20 397.87,9.24 400.90,9.02" fill="#008000"/>
<polygon points="415.66,60.30 416.81,63.12 419.84,63.34 417.51,65.30 418.25,68.26 415.66,66.65 413.07,68.26 413.81,65.30 411.48,63.34 414.51,63.12" fill="#008000"/>
<polygon points="429.27,132.10 430.42,134.92 433.45,135.14 431.12,137.10 431.86,140.06 429.27,138.45 426.68,140.06 427.42,137.10 425.09,135.14 428.12,134.92" fill="#008000"/>
<polygon points="442.88,185.20 444.03,188.02 447.06,188.24 444.73,190.20 445.47,193.16 442.88,191.55 440.29,193.16 441.03,190.20 438.70,188.24 441.73,188.02" fill="#008000"/>
</g>
<rect x="585.55" y="106.40" width="84.30" height="93.70" rx="1.6" fill="#fff" fill-opacity="0.8" stroke="#d0d0d0" stroke-width="0.7"/>
<line x1="588.75" y1="112.75" x2="602.45" y2="112.75" stroke="#ffd700" stroke-width="1.6"/>
<polygon points="595.60,109.75 598.45,111.82 597.36,115.18 593.84,115.18 592.75,111.82" fill="#ffd700"/>
<text x="610.25" y="115.85" font-size="7.7" fill="#000" font-family='"Liberation Sans", sans-serif' textLength="14.84" lengthAdjust="spacingAndGlyphs">BAS</text>
<line x1="588.75" y1="124.18" x2="602.45" y2="124.18" stroke="#ff0000" stroke-width="1.6"/>
<circle cx="595.60" cy="124.18" r="2.65" fill="#ff0000"/>
<text x="610.25" y="127.28" font-size="7.7" fill="#000" font-family='"Liberation Sans", sans-serif' textLength="18.2" lengthAdjust="spacingAndGlyphs">WOA</text>
<line x1="588.75" y1="135.61" x2="602.45" y2="135.61" stroke="#000000" stroke-width="1.6"/>
<path d="M592.90 135.61H598.30M595.60 132.91V138.31" stroke="#000000" stroke-width="1.1"/>
<text x="610.25" y="138.71" font-size="7.7" fill="#000" font-family='"Liberation Sans", sans-serif' textLength="14.98" lengthAdjust="spacingAndGlyphs">PSO</text>
<line x1="588.75" y1="147.04" x2="602.45" y2="147.04" stroke="#bf00bf" stroke-width="1.6"/>
<rect x="593.10" y="144.54" width="5.00" height="5.00" fill="#bf00bf"/>
<text x="610.25" y="150.14" font-size="7.7" fill="#000" font-family='"Liberation Sans", sans-serif' textLength="24.02" lengthAdjust="spacingAndGlyphs">LABAS</text>
<line x1="588.75" y1="158.47" x2="602.45" y2="158.47" stroke="#00ffff" stroke-width="1.6"/>
<polygon points="595.60,154.47 597.80,158.47 595.60,162.47 593.40,158.47" fill="#00ffff"/>
<text x="610.25" y="161.57" font-size="7.7" fill="#000" font-family='"Liberation Sans", sans-serif' textLength="17.02" lengthAdjust="spacingAndGlyphs">IBAS</text>
<line x1="588.75" y1="169.90" x2="602.45" y2="169.90" stroke="#90ee90" stroke-width="1.6"/>
<path d="M593.60 167.90L597.60 171.90M593.60 171.90L597.60 167.90" stroke="#90ee90" stroke-width="1.0"/>
<text x="610.25" y="173.00" font-size="7.7" fill="#000" font-family='"Liberation Sans", sans-serif' textLength="19.54" lengthAdjust="spacingAndGlyphs">BSAS</text>
<line x1="588.75" y1="181.33" x2="602.45" y2="181.33" stroke="#ffb6c1" stroke-width="1.6"/>
<polygon points="595.60,178.13 598.38,182.93 592.82,182.93" fill="#ffb6c1"/>
<text x="610.25" y="184.43" font-size="7.7" fill="#000" font-family='"Liberation Sans", sans-serif' textLength="25.05" lengthAdjust="spacingAndGlyphs">ENBAS</text>
<line x1="588.75" y1="192.76" x2="602.45" y2="192.76" stroke="#008000" stroke-width="1.6"/>
<polygon points="595.60,188.36 596.75,191.18 599.78,191.40 597.45,193.36 598.19,196.32 595.60,194.71 593.01,196.32 593.75,193.36 591.42,191.40 594.45,191.18" fill="#008000"/>
<text x="610.25" y="195.86" font-size="7.7" fill="#000" font-family='"Liberation Sans", sans-serif' textLength="24.76" lengthAdjust="spacingAndGlyphs">ABSAS</text>
<line x1="635.36" y1="193.76" x2="637.35" y2="193.76" stroke="#000" stroke-width="0.9"/>
<text x="637.70" y="195.86" font-size="7.7" fill="#000" font-family='"Liberation Sans", sans-serif' textLength="9.93" lengthAdjust="spacingAndGlyphs">CS</text>
<line x1="647.98" y1="193.76" x2="649.97" y2="193.76" stroke="#000" stroke-width="0.9"/>
<text x="650.32" y="195.86" font-size="7.7" fill="#000" font-family='"Liberation Sans", sans-serif' textLength="15.60" lengthAdjust="spacingAndGlyphs">GSA</text>
<line x1="402.05" y1="1.70" x2="402.05" y2="204.45" stroke="#000" stroke-width="1.0"/>
<line x1="674.25" y1="1.70" x2="674.25" y2="204.45" stroke="#000" stroke-width="1.0"/>
<line x1="401.55" y1="2.20" x2="674.75" y2="2.20" stroke="#000" stroke-width="1.0"/>
<line x1="401.55" y1="204.00" x2="674.75" y2="204.00" stroke="#000" stroke-width="0.9"/>
<line x1="402.05" y1="204.00" x2="402.05" y2="207.20" stroke="#000" stroke-width="0.75"/>
<text x="402.05" y="215.60" font-size="7.9" text-anchor="middle" fill="#000" font-family='"Liberation Sans", sans-serif' textLength="4.55" lengthAdjust="spacingAndGlyphs">0</text>
<line x1="436.07" y1="204.00" x2="436.07" y2="207.20" stroke="#000" stroke-width="0.75"/>
<text x="436.07" y="215.60" font-size="7.9" text-anchor="middle" fill="#000" font-family='"Liberation Sans", sans-serif' textLength="13.65" lengthAdjust="spacingAndGlyphs">250</text>
<line x1="470.10" y1="204.00" x2="470.10" y2="207.20" stroke="#000" stroke-width="0.75"/>
<text x="470.10" y="215.60" font-size="7.9" text-anchor="middle" fill="#000" font-family='"Liberation Sans", sans-serif' textLength="13.65" lengthAdjust="spacingAndGlyphs">500</text>
<line x1="504.12" y1="204.00" x2="504.12" y2="207.20" stroke="#000" stroke-width="0.75"/>
<text x="504.12" y="215.60" font-size="7.9" text-anchor="middle" fill="#000" font-family='"Liberation Sans", sans-serif' textLength="13.65" lengthAdjust="spacingAndGlyphs">750</text>
<line x1="538.15" y1="204.00" x2="538.15" y2="207.20" stroke="#000" stroke-width="0.75"/>
<text x="538.15" y="215.60" font-size="7.9" text-anchor="middle" fill="#000" font-family='"Liberation Sans", sans-serif' textLength="18.20" lengthAdjust="spacingAndGlyphs">1000</text>
<line x1="572.17" y1="204.00" x2="572.17" y2="207.20" stroke="#000" stroke-width="0.75"/>
<text x="572.17" y="215.60" font-size="7.9" text-anchor="middle" fill="#000" font-family='"Liberation Sans", sans-serif' textLength="18.20" lengthAdjust="spacingAndGlyphs">1250</text>
<line x1="606.20" y1="204.00" x2="606.20" y2="207.20" stroke="#000" stroke-width="0.75"/>
<text x="606.20" y="215.60" font-size="7.9" text-anchor="middle" fill="#000" font-family='"Liberation Sans", sans-serif' textLength="18.20" lengthAdjust="spacingAndGlyphs">1500</text>
<line x1="640.23" y1="204.00" x2="640.23" y2="207.20" stroke="#000" stroke-width="0.75"/>
<text x="640.23" y="215.60" font-size="7.9" text-anchor="middle" fill="#000" font-family='"Liberation Sans", sans-serif' textLength="18.20" lengthAdjust="spacingAndGlyphs">1750</text>
<line x1="674.25" y1="204.00" x2="674.25" y2="207.20" stroke="#000" stroke-width="0.75"/>
<text x="674.25" y="215.60" font-size="7.9" text-anchor="middle" fill="#000" font-family='"Liberation Sans", sans-serif' textLength="18.20" lengthAdjust="spacingAndGlyphs">2000</text>
<line x1="398.75" y1="13.00" x2="402.05" y2="13.00" stroke="#000" stroke-width="0.75"/>
<text x="392.70" y="13.20" font-size="6.2" fill="#000" font-family='"Liberation Sans", sans-serif' textLength="3.45" lengthAdjust="spacingAndGlyphs">4</text>
<text x="383.60" y="16.50" font-size="7.8" fill="#000" font-family='"Liberation Sans", sans-serif' textLength="8.9" lengthAdjust="spacingAndGlyphs">10</text>
<line x1="398.75" y1="36.88" x2="402.05" y2="36.88" stroke="#000" stroke-width="0.75"/>
<text x="392.70" y="38.38" font-size="6.2" fill="#000" font-family='"Liberation Sans", sans-serif' textLength="3.45" lengthAdjust="spacingAndGlyphs">9</text>
<line x1="389.00" y1="35.42" x2="392.40" y2="35.42" stroke="#000" stroke-width="0.6"/>
<text x="379.10" y="40.38" font-size="7.8" fill="#000" font-family='"Liberation Sans", sans-serif' textLength="8.9" lengthAdjust="spacingAndGlyphs">10</text>
<line x1="398.75" y1="60.75" x2="402.05" y2="60.75" stroke="#000" stroke-width="0.75"/>
<text x="389.25" y="62.25" font-size="6.2" fill="#000" font-family='"Liberation Sans", sans-serif' textLength="6.90" lengthAdjust="spacingAndGlyphs">22</text>
<line x1="385.55" y1="59.30" x2="388.95" y2="59.30" stroke="#000" stroke-width="0.6"/>
<text x="375.65" y="64.25" font-size="7.8" fill="#000" font-family='"Liberation Sans", sans-serif' textLength="8.9" lengthAdjust="spacingAndGlyphs">10</text>
<line x1="398.75" y1="84.62" x2="402.05" y2="84.62" stroke="#000" stroke-width="0.75"/>
<text x="389.25" y="86.12" font-size="6.2" fill="#000" font-family='"Liberation Sans", sans-serif' textLength="6.90" lengthAdjust="spacingAndGlyphs">35</text>
<line x1="385.55" y1="83.17" x2="388.95" y2="83.17" stroke="#000" stroke-width="0.6"/>
<text x="375.65" y="88.12" font-size="7.8" fill="#000" font-family='"Liberation Sans", sans-serif' textLength="8.9" lengthAdjust="spacingAndGlyphs">10</text>
<line x1="398.75" y1="108.50" x2="402.05" y2="108.50" stroke="#000" stroke-width="0.75"/>
<text x="389.25" y="110.00" font-size="6.2" fill="#000" font-family='"Liberation Sans", sans-serif' textLength="6.90" lengthAdjust="spacingAndGlyphs">48</text>
<line x1="385.55" y1="107.05" x2="388.95" y2="107.05" stroke="#000" stroke-width="0.6"/>
<text x="375.65" y="112.00" font-size="7.8" fill="#000" font-family='"Liberation Sans", sans-serif' textLength="8.9" lengthAdjust="spacingAndGlyphs">10</text>
<line x1="398.75" y1="132.38" x2="402.05" y2="132.38" stroke="#000" stroke-width="0.75"/>
<text x="389.25" y="133.88" font-size="6.2" fill="#000" font-family='"Liberation Sans", sans-serif' textLength="6.90" lengthAdjust="spacingAndGlyphs">61</text>
<line x1="385.55" y1="130.93" x2="388.95" y2="130.93" stroke="#000" stroke-width="0.6"/>
<text x="375.65" y="135.88" font-size="7.8" fill="#000" font-family='"Liberation Sans", sans-serif' textLength="8.9" lengthAdjust="spacingAndGlyphs">10</text>
<line x1="398.75" y1="156.25" x2="402.05" y2="156.25" stroke="#000" stroke-width="0.75"/>
<text x="389.25" y="157.75" font-size="6.2" fill="#000" font-family='"Liberation Sans", sans-serif' textLength="6.90" lengthAdjust="spacingAndGlyphs">74</text>
<line x1="385.55" y1="154.80" x2="388.95" y2="154.80" stroke="#000" stroke-width="0.6"/>
<text x="375.65" y="159.75" font-size="7.8" fill="#000" font-family='"Liberation Sans", sans-serif' textLength="8.9" lengthAdjust="spacingAndGlyphs">10</text>
<line x1="398.75" y1="180.12" x2="402.05" y2="180.12" stroke="#000" stroke-width="0.75"/>
<text x="389.25" y="181.62" font-size="6.2" fill="#000" font-family='"Liberation Sans", sans-serif' textLength="6.90" lengthAdjust="spacingAndGlyphs">87</text>
<line x1="385.55" y1="178.68" x2="388.95" y2="178.68" stroke="#000" stroke-width="0.6"/>
<text x="375.65" y="183.62" font-size="7.8" fill="#000" font-family='"Liberation Sans", sans-serif' textLength="8.9" lengthAdjust="spacingAndGlyphs">10</text>
<line x1="398.75" y1="204.00" x2="402.05" y2="204.00" stroke="#000" stroke-width="0.75"/>
<text x="385.80" y="205.50" font-size="6.2" fill="#000" font-family='"Liberation Sans", sans-serif' textLength="10.35" lengthAdjust="spacingAndGlyphs">100</text>
<line x1="382.10" y1="202.55" x2="385.50" y2="202.55" stroke="#000" stroke-width="0.6"/>
<text x="372.20" y="207.50" font-size="7.8" fill="#000" font-family='"Liberation Sans", sans-serif' textLength="8.9" lengthAdjust="spacingAndGlyphs">10</text>
<text x="538.15" y="225.6" font-size="7.7" text-anchor="middle" fill="#000" font-family='"Liberation Sans", sans-serif' textLength="31.6" lengthAdjust="spacingAndGlyphs">iteration</text>
<text transform="translate(365.55,104.2) rotate(-90)" font-size="7.8" text-anchor="middle" fill="#000" font-family='"Liberation Sans", sans-serif' textLength="43" lengthAdjust="spacingAndGlyphs">BestFitness</text>
<text x="106.0" y="256.7" font-size="18.4" fill="#000" font-family='"Liberation Serif", serif'>(a) 30-dimension</text>
<text x="467.0" y="256.7" font-size="18.4" fill="#000" font-family='"Liberation Serif", serif'>(b) 50-dimension</text>
</svg>
</body></html>
